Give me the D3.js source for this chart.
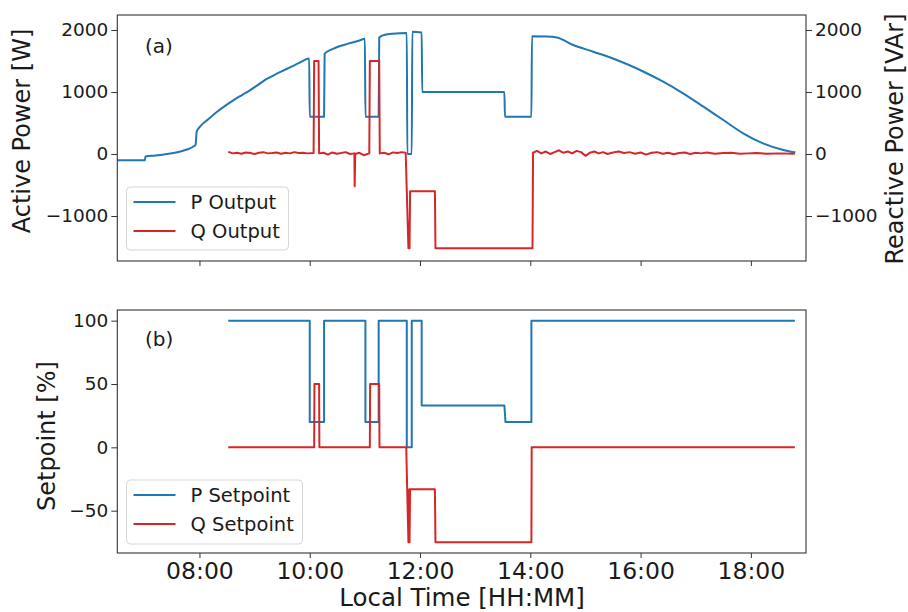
<!DOCTYPE html>
<html><head><meta charset="utf-8">
<script src="https://cdn.jsdelivr.net/npm/d3@7"></script>
<style>
body{margin:0;background:#fff}
svg{display:block}
text{font-family:"DejaVu Sans",sans-serif;fill:#1a1a1a}
</style>
</head><body>
<svg id="c" width="908" height="612"></svg>
<script>
// ---------- data (time in decimal hours) ----------
const xDomain = [6.51, 19.0];
const timeTicks = [8, 10, 12, 14, 16, 18];
const powerTicks = [-1000, 0, 1000, 2000];
const setpointTicks = [-50, 0, 50, 100];
const seriesNames = ["P Output", "Q Output", "P Setpoint", "Q Setpoint"];

const pOutput = [
  [6.51,-100],[7.01,-100],[7.02,-40],[7.2,-25],[7.41,0],[7.55,20],[7.65,40],[7.8,80],[7.89,120],[7.93,150],
  [7.95,360],[8.01,440],[8.16,560],[8.32,680],[8.47,780],[8.62,870],[8.77,950],[8.92,1030],[9.07,1120],
  [9.22,1210],[9.37,1280],[9.52,1345],[9.67,1410],[9.83,1480],[9.99,1540],
  [10.0,600],[10.26,600],[10.27,1620],[10.43,1700],[10.7,1780],[10.9,1830],[11.0,1860],
  [11.01,600],[11.25,600],[11.26,1880],[11.35,1920],[11.5,1940],[11.76,1950],
  [11.77,0],[11.85,0],[11.86,1970],[12.03,1960],
  [12.04,1000],[13.53,1000],[13.54,600],[14.02,600],
  [14.03,1900],[14.3,1895],[14.48,1880],[14.78,1758],[15.14,1650],[15.57,1516],[15.99,1355],
  [16.41,1166],[16.77,979],[17.14,763],[17.5,548],[17.86,334],[18.22,172],[18.59,65],[18.79,27]
];

const qOutput = [
  [8.54,30],[8.6,10],[8.68,20],[8.76,5],[8.84,25],[8.92,15],[9.0,0],[9.08,20],[9.16,30],[9.24,10],
  [9.32,15],[9.4,25],[9.48,5],[9.56,20],[9.64,10],[9.72,30],[9.8,15],[9.88,20],[9.96,10],[10.07,15],
  [10.08,1500],[10.16,1500],[10.17,10],[10.25,20],[10.33,-10],[10.41,25],[10.49,5],[10.57,15],
  [10.65,30],[10.73,0],[10.81,10],[10.815,-520],[10.825,0],[10.9,20],[10.98,-20],[11.08,10],
  [11.09,1500],[11.26,1500],[11.27,10],[11.35,20],[11.43,-5],[11.51,25],[11.59,15],[11.67,30],[11.74,20],
  [11.79,-1520],[11.80,-1100],[11.81,-1520],[11.82,-600],[12.27,-600],[12.28,-1520],[14.04,-1520],
  [14.05,20],[14.12,50],[14.2,10],[14.28,40],[14.36,0],[14.44,30],[14.52,60],[14.6,20],[14.68,40],
  [14.76,10],[14.84,50],[14.92,30],[15.0,-30],[15.08,20],[15.16,40],[15.24,10],[15.32,30],[15.4,0],
  [15.5,25],[15.6,40],[15.7,15],[15.8,30],[15.9,5],[16.0,25],[16.1,-10],[16.2,20],[16.3,30],[16.4,5],
  [16.5,20],[16.6,-5],[16.7,15],[16.8,25],[16.9,0],[17.0,20],[17.1,10],[17.2,25],[17.35,5],[17.5,15],
  [17.65,20],[17.8,5],[17.95,10],[18.1,15],[18.3,5],[18.5,10],[18.78,5]
];

const pSetpoint = [
  [8.54,100],[10.0,100],[10.0,20],[10.26,20],[10.26,100],[11.01,100],[11.01,20],[11.25,20],[11.25,100],
  [11.76,100],[11.76,0],[11.85,0],[11.85,100],[12.03,100],[12.03,33],[13.53,33],[13.55,20],[14.02,20],
  [14.02,100],[18.78,100]
];

const qSetpoint = [
  [8.54,0],[10.08,0],[10.085,50],[10.17,50],[10.175,0],[11.09,0],[11.095,50],[11.26,50],[11.265,0],
  [11.75,0],[11.79,-75],[11.80,-75],[11.805,-33],[11.80,-75],[11.81,-75],[11.82,-33],[12.27,-33],[12.28,-75],
  [14.02,-75],[14.025,0],[18.78,0]
];

// ---------- layout ----------
const blue = "#1f77b4", red = "#d62728";
const L = 117.3, R = 806;
const top1 = 15, bot1 = 261, top2 = 310, bot2 = 553;

const svg = d3.select("#c");
const x = d3.scaleLinear().domain(xDomain).range([L, R]);
const yTop = d3.scaleLinear().domain([-1726, 2242]).range([bot1, top1]);
const yBot = d3.scaleLinear().domain([-83.4, 108.4]).range([bot2, top2]);

const fmtTime = h => String(Math.floor(h)).padStart(2, "0") + ":" + String(Math.round((h % 1) * 60)).padStart(2, "0");
const fmtNum = d => (d < 0 ? "\u2212" + Math.abs(d) : String(d));

const defs = svg.append("defs");
defs.append("clipPath").attr("id", "clip1").append("rect")
  .attr("x", L).attr("y", top1).attr("width", R - L).attr("height", bot1 - top1);
defs.append("clipPath").attr("id", "clip2").append("rect")
  .attr("x", L).attr("y", top2).attr("width", R - L).attr("height", bot2 - top2);

function drawLine(data, y, color, clip, curve) {
  const line = d3.line().x(d => x(d[0])).y(d => y(d[1])).curve(curve || d3.curveLinear);
  svg.append("path").datum(data)
    .attr("clip-path", `url(#${clip})`)
    .attr("d", line).attr("fill", "none")
    .attr("stroke", color).attr("stroke-width", 2)
    .attr("stroke-linejoin", "round").attr("stroke-linecap", "square");
}

function styleAxis(g, size) {
  g.select(".domain").remove();
  g.selectAll(".tick line").attr("stroke", "#333").attr("stroke-width", 1);
  g.selectAll(".tick text").attr("font-size", size).attr("fill", "#1a1a1a")
    .attr("font-family", "DejaVu Sans, sans-serif");
}

// ---- top panel ----
drawLine(pOutput, yTop, blue, "clip1", d3.curveMonotoneX);
drawLine(qOutput, yTop, red, "clip1");

svg.append("g").attr("transform", `translate(${L},0)`)
  .call(d3.axisLeft(yTop).tickValues(powerTicks).tickSize(6).tickPadding(3).tickFormat(fmtNum))
  .call(g => styleAxis(g, 18.5));
svg.append("g").attr("transform", `translate(${R},0)`)
  .call(d3.axisRight(yTop).tickValues(powerTicks).tickSize(6).tickPadding(3).tickFormat(fmtNum))
  .call(g => styleAxis(g, 18.5));
svg.append("g").attr("transform", `translate(0,${bot1})`)
  .call(d3.axisBottom(x).tickValues(timeTicks).tickSize(5).tickFormat(""))
  .call(g => styleAxis(g, 23));

svg.append("rect").attr("x", L).attr("y", top1).attr("width", R - L).attr("height", bot1 - top1)
  .attr("fill", "none").attr("stroke", "#333").attr("stroke-width", 1.1);

// ---- bottom panel ----
drawLine(pSetpoint, yBot, blue, "clip2");
drawLine(qSetpoint, yBot, red, "clip2");

svg.append("g").attr("transform", `translate(${L},0)`)
  .call(d3.axisLeft(yBot).tickValues(setpointTicks).tickSize(6).tickPadding(3).tickFormat(fmtNum))
  .call(g => styleAxis(g, 18.5));
svg.append("g").attr("transform", `translate(0,${bot2})`)
  .call(d3.axisBottom(x).tickValues(timeTicks).tickSize(5).tickPadding(4).tickFormat(fmtTime))
  .call(g => styleAxis(g, 23.5));

svg.append("rect").attr("x", L).attr("y", top2).attr("width", R - L).attr("height", bot2 - top2)
  .attr("fill", "none").attr("stroke", "#333").attr("stroke-width", 1.1);

// ---- labels ----
svg.append("text").attr("transform", "translate(30,131) rotate(-90)")
  .attr("text-anchor", "middle").attr("font-size", 24).text("Active Power [W]");
svg.append("text").attr("transform", "translate(903,139) rotate(-90)")
  .attr("text-anchor", "middle").attr("font-size", 24).text("Reactive Power [VAr]");
svg.append("text").attr("transform", "translate(55,436) rotate(-90)")
  .attr("text-anchor", "middle").attr("font-size", 24).text("Setpoint [%]");
svg.append("text").attr("x", 462).attr("y", 606)
  .attr("text-anchor", "middle").attr("font-size", 24.5).text("Local Time [HH:MM]");

svg.append("text").attr("x", 145).attr("y", 53).attr("font-size", 20).text("(a)");
svg.append("text").attr("x", 145).attr("y", 346).attr("font-size", 20).text("(b)");

// ---- legends ----
function legend(x0, y0, w, h, items) {
  svg.append("rect").attr("x", x0).attr("y", y0).attr("width", w).attr("height", h)
    .attr("rx", 4).attr("fill", "#fff").attr("fill-opacity", 0.8)
    .attr("stroke", "#d6d6d6").attr("stroke-width", 1);
  items.forEach((it, i) => {
    const yy = y0 + 15 + i * 29;
    svg.append("line").attr("x1", x0 + 7).attr("x2", x0 + 49).attr("y1", yy).attr("y2", yy)
      .attr("stroke", it.color).attr("stroke-width", 2);
    svg.append("text").attr("x", x0 + 64).attr("y", yy + 7).attr("font-size", 19.5).text(it.name);
  });
}
legend(126.5, 187, 162, 63, [{name: seriesNames[0], color: blue}, {name: seriesNames[1], color: red}]);
legend(126.5, 480, 176, 64, [{name: seriesNames[2], color: blue}, {name: seriesNames[3], color: red}]);
</script>
</body></html>
